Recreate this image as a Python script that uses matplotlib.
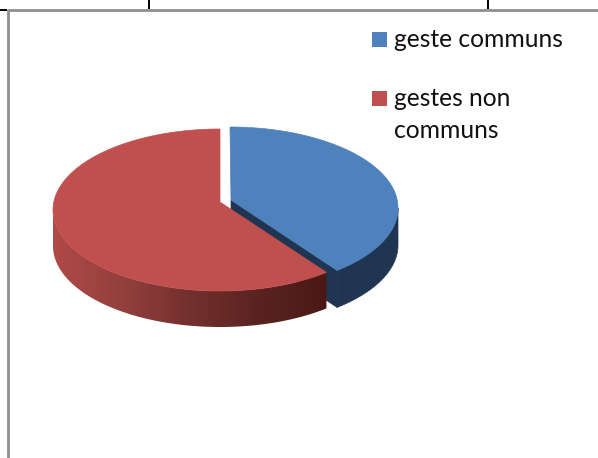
import numpy as np
import matplotlib
matplotlib.use('Agg')
import matplotlib.pyplot as plt
from matplotlib.colors import LinearSegmentedColormap
from matplotlib.patches import Polygon, Rectangle

# Data
labels = ['geste communs', 'gestes non\ncommuns']
values = [39, 61]
colors = ['#4f81bd', '#c0504d']
side_blue = '#1f3552'


# Points on an ellipse, angles in degrees
def arc(cx, cy, rx, ry, start, end, n=300):
    t = np.radians(np.linspace(start, end, n))
    return np.column_stack([cx + rx * np.cos(t), cy - ry * np.sin(t)])


fig = plt.figure(figsize=(5.98, 4.58), dpi=100)
ax = fig.add_axes([0, 0, 1, 1])
ax.axis('off')

# Pie starts at 12 o'clock and goes clockwise
split = 90 - 360 * values[0] / sum(values)

# Blue slice, pulled out to the right
blue_arc = arc(230, 208, 168, 81, 90, split)
blue_apex = np.array([231, 200])
low = arc(230, 208, 168, 81, 0, split)
ax.add_patch(Polygon(np.vstack([low, (low + [0, 37])[::-1]]), fc=side_blue, ec=side_blue, lw=0.5))
wall = np.array([blue_apex, blue_arc[-1], blue_arc[-1] + [0, 37], blue_apex + [0, 37]])
ax.add_patch(Polygon(wall, fc=side_blue, ec=side_blue, lw=0.5))

# Red outer wall, with a left to right gradient
low = arc(220, 210, 167, 81, 180, 360 + split)
clip = Polygon(np.vstack([low, (low + [0, 36])[::-1]]), fc='none', ec='none')
ax.add_patch(clip)
cmap = LinearSegmentedColormap.from_list('redside', ['#b04a47', '#93403d', '#73302e', '#5a2320', '#4a1815'])
img = ax.imshow(np.linspace(0, 1, 256).reshape(1, -1), cmap=cmap, aspect='auto',
                extent=[53, 327, 330, 200], zorder=2)
img.set_clip_path(clip)

# Top faces
red_top = np.vstack([[220, 202], arc(220, 210, 167, 81, 90, 360 + split)])
ax.add_patch(Polygon(red_top, fc=colors[1], ec=colors[1], lw=0.5, zorder=3))
blue_top = np.vstack([blue_apex, blue_arc])
ax.add_patch(Polygon(blue_top, fc=colors[0], ec=colors[0], lw=0.5, zorder=3))

# Table lines around the picture
ax.plot([8, 598], [10, 10], color='#8e8e8e', lw=2.0, solid_capstyle='butt')
ax.plot([8, 8], [9, 458], color='#8e8e8e', lw=2.0, solid_capstyle='butt')
ax.plot([149, 149], [0, 9], color='black', lw=1.4, solid_capstyle='butt')
ax.plot([488, 488], [0, 9], color='black', lw=1.4, solid_capstyle='butt')
ax.plot([0, 7], [10, 10], color='black', lw=1.4, solid_capstyle='butt')

# Legend
for lab, col, y in zip(labels, colors, [39, 98]):
    ax.add_patch(Rectangle((372, y - 7.5), 15, 15, fc=col, ec='none'))
    ax.text(394, y - 11, lab, fontsize=17.7, family='Lato', color='#111111', va='top', linespacing=1.5)

ax.set_xlim(0, 598)
ax.set_ylim(458, 0)

fig.savefig('out.png', dpi=100)
plt.close(fig)
